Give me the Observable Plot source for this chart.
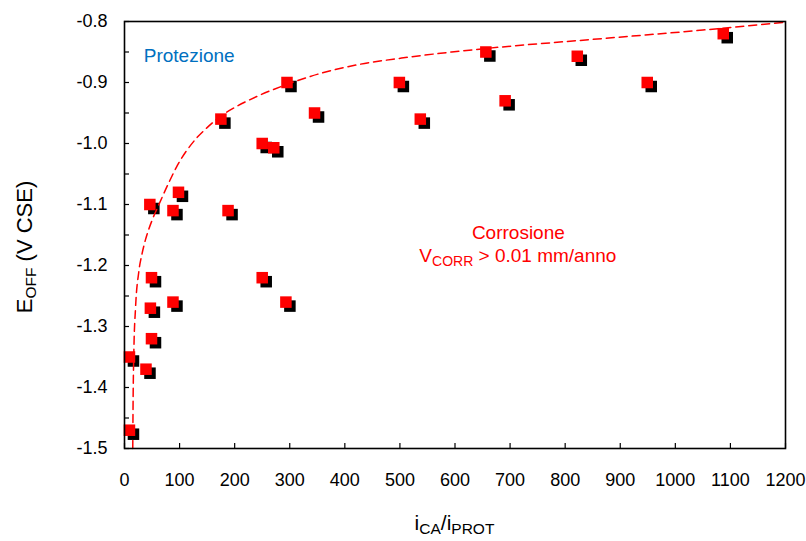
<!DOCTYPE html>
<html><head><meta charset="utf-8">
<script src="https://cdn.jsdelivr.net/npm/d3@7"></script>
<script src="https://cdn.jsdelivr.net/npm/@observablehq/plot@0.6"></script>
<style>
body{margin:0;background:#fff;}
svg{font-family:"Liberation Sans",Arial,sans-serif;}
</style>
</head><body><div id="chart"></div>
<script>
// measured points: i_CA/i_PROT vs E_OFF (V CSE)
const ratio = [295,175,250,271,345,499,537,46,98,88,188,656,822,1087,949,691,49,250,88,293,47,49,9,39,9];
const eoff  = [-0.90,-0.96,-1.00,-1.007,-0.95,-0.90,-0.96,-1.10,-1.08,-1.11,-1.11,-0.85,-0.857,-0.82,-0.90,-0.93,-1.22,-1.22,-1.26,-1.26,-1.27,-1.32,-1.35,-1.37,-1.47];
// protection boundary (dashed curve)
const curveX = [15,15.5,17,20,26,32,38,50,62,80,96,129,150,175,200,240,289,356,428,503,594,659,867,1050,1200];
const curveY = [-1.5,-1.434,-1.34,-1.27,-1.21,-1.18,-1.158,-1.126,-1.101,-1.065,-1.036,-0.993,-0.974,-0.955,-0.941,-0.923,-0.905,-0.885,-0.870,-0.860,-0.850,-0.844,-0.828,-0.814,-0.801];
// axes
const xTicks = [0,100,200,300,400,500,600,700,800,900,1000,1100,1200];
const yTicks = [-1.5,-1.4,-1.3,-1.2,-1.1,-1.0,-0.9,-0.8];
const yMinor = [-1.5,-1.45,-1.4,-1.35,-1.3,-1.25,-1.2,-1.15,-1.1,-1.05,-1.0,-0.95,-0.9,-0.85,-0.8];
// texts
const protLabel = {text:"Protezione", x:35, y:-0.856};
const corrLabel1 = {text:"Corrosione", x:715, y:-1.147};
const corrLabel2 = {parts:[["V",false],["CORR",true],[" > 0.01 mm/anno",false]], x:715, y:-1.186};
const xTitle = [["i",false],["CA",true],["/i",false],["PROT",true]];
const yTitle = [["E",false],["OFF",true],[" (V CSE)",false]];

const pts = ratio.map((x,i)=>({x, y:eoff[i]}));
const curve = curveX.map((x,i)=>({x, y:curveY[i]}));

const W=806,H=541,ML=124,MR=21,MT=21,MB=93;
const chart = Plot.plot({
  width:W, height:H, marginLeft:ML, marginRight:MR, marginTop:MT, marginBottom:MB,
  x:{domain:[0,1200]}, y:{domain:[-1.5,-0.8]},
  style:{fontFamily:'"Liberation Sans",Arial,sans-serif', fontSize:"18px", color:"#000", background:"#fff", overflow:"visible"},
  marks:[
    Plot.ruleX(xTicks, {x:d=>d, insetTop:(H-MT-MB)-5, stroke:"#000", strokeWidth:1.2}),
    Plot.ruleY(yMinor, {y:d=>d, insetRight:(W-ML-MR)-5, stroke:"#000", strokeWidth:1.2}),
    Plot.axisX({ticks:xTicks, tickSize:0, tickPadding:25, label:null, fontSize:18, tickFormat:d=>String(d)}),
    Plot.axisY({ticks:yTicks, tickSize:0, tickPadding:17, label:null, fontSize:18, tickFormat:d=>d.toFixed(1)}),
    Plot.dot(pts, {x:"x", y:"y", symbol:"square", r:6.5, fill:"#000", dx:4, dy:4}),
    Plot.dot(pts, {x:"x", y:"y", symbol:"square", r:6.5, fill:"#ff0000"}),
    Plot.line(curve, {x:"x", y:"y", stroke:"#ff0000", strokeWidth:1.5, strokeDasharray:"8,5", curve:"monotone-x"}),
    Plot.text([protLabel], {x:"x", y:"y", text:"text", textAnchor:"start", fill:"#0070c0", fontSize:19}),
    Plot.text([corrLabel1], {x:"x", y:"y", text:"text", fill:"#ff0000", fontSize:19}),
    Plot.frame({stroke:"#000", strokeWidth:1.6})
  ]
});
document.getElementById("chart").appendChild(chart);

const sx = chart.scale("x"), sy = chart.scale("y");
const svg = d3.select(chart);
function rich(x, y, parts, {size=20, sub=14, fill="#000", rotate=false, shift=5}={}) {
  const t = svg.append("text")
    .attr("text-anchor","middle")
    .attr("fill", fill)
    .attr("font-size", size)
    .attr("transform", rotate ? `translate(${x},${y}) rotate(-90)` : `translate(${x},${y})`);
  let off = 0;
  for (const [s, isSub] of parts) {
    const target = isSub ? shift : 0;
    t.append("tspan").attr("dy", target - off).attr("font-size", isSub ? sub : size).text(s);
    off = target;
  }
  return t;
}
rich(sx.apply(corrLabel2.x), sy.apply(corrLabel2.y) + 6, corrLabel2.parts, {size:19, sub:14, fill:"#ff0000", shift:4});
rich(ML + (W-ML-MR)/2, 530, xTitle, {size:21, sub:15.5, shift:4});
rich(32, 247, yTitle, {size:22, sub:15.5, rotate:true, shift:4});
</script>
</body></html>
